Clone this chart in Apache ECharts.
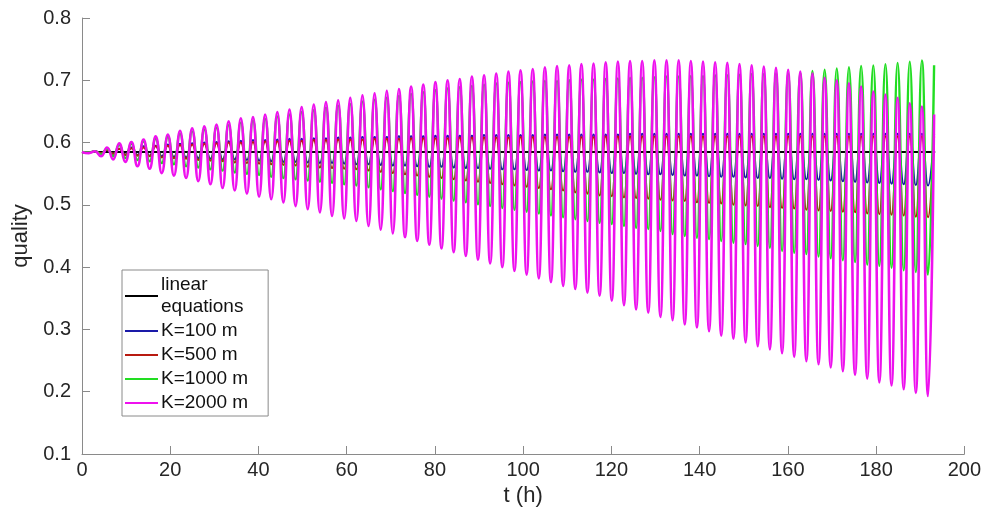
<!DOCTYPE html>
<html><head><meta charset="utf-8">
<script src="https://cdn.jsdelivr.net/npm/echarts@6/dist/echarts.min.js"></script>
<style>html,body{margin:0;padding:0;background:#fff}#c{width:984px;height:516px}</style>
</head><body><div id="c"></div>
<script>
// times (h) of the oscillation maxima and minima
const peakTimes = [0,2.92,5.67,8.43,11.19,13.95,16.70,19.46,22.22,24.97,27.73,30.49,33.24,36.00,38.76,41.52,44.27,47.03,49.79,52.54,55.30,58.06,60.81,63.57,66.33,69.09,71.84,74.60,77.36,80.11,82.87,85.63,88.38,91.14,93.90,96.66,99.41,102.17,104.93,107.68,110.44,113.20,115.95,118.71,121.47,124.23,126.98,129.74,132.50,135.25,138.01,140.77,143.52,146.28,149.04,151.80,154.55,157.31,160.07,162.82,165.58,168.34,171.09,173.85,176.61,179.37,182.12,184.88,187.64,190.39,193.15];
const troughTimes = [1.54,4.30,7.05,9.81,12.57,15.32,18.08,20.84,23.59,26.35,29.11,31.87,34.62,37.38,40.14,42.89,45.65,48.41,51.16,53.92,56.68,59.43,62.19,64.95,67.71,70.46,73.22,75.98,78.73,81.49,84.25,87.00,89.76,92.52,95.28,98.03,100.79,103.55,106.30,109.06,111.82,114.57,117.33,120.09,122.85,125.60,128.36,131.12,133.87,136.63,139.39,142.14,144.90,147.66,150.42,153.17,155.93,158.69,161.44,164.20,166.96,169.71,172.47,175.23,177.99,180.74,183.50,186.26,189.01,191.77];

const linearTimes = [0, 193.4];
const linearValues = [0.585, 0.585];

const k100Peaks = [0.585,0.586,0.588,0.590,0.592,0.594,0.595,0.597,0.598,0.599,0.600,0.601,0.602,0.603,0.604,0.604,0.605,0.606,0.606,0.607,0.607,0.608,0.608,0.609,0.609,0.609,0.610,0.610,0.610,0.611,0.611,0.611,0.611,0.612,0.612,0.612,0.612,0.612,0.613,0.613,0.613,0.613,0.613,0.613,0.613,0.614,0.614,0.614,0.614,0.614,0.614,0.614,0.614,0.614,0.614,0.614,0.614,0.614,0.614,0.614,0.614,0.614,0.614,0.614,0.614,0.614,0.614,0.614,0.614,0.614,0.614];
const k100Troughs = [0.584,0.583,0.582,0.581,0.580,0.579,0.578,0.577,0.576,0.575,0.574,0.573,0.573,0.572,0.571,0.570,0.569,0.569,0.568,0.567,0.567,0.566,0.565,0.565,0.564,0.563,0.563,0.562,0.561,0.561,0.560,0.559,0.559,0.558,0.557,0.557,0.556,0.555,0.555,0.554,0.553,0.553,0.552,0.551,0.551,0.550,0.549,0.549,0.548,0.547,0.547,0.546,0.545,0.545,0.544,0.543,0.543,0.542,0.541,0.541,0.540,0.539,0.538,0.537,0.536,0.535,0.534,0.533,0.532,0.531];

const k500Peaks = [0.585,0.586,0.588,0.590,0.591,0.592,0.594,0.595,0.596,0.597,0.598,0.599,0.600,0.600,0.601,0.602,0.602,0.603,0.603,0.604,0.604,0.605,0.605,0.605,0.606,0.606,0.606,0.607,0.607,0.607,0.607,0.608,0.608,0.608,0.608,0.608,0.609,0.609,0.609,0.609,0.609,0.609,0.609,0.610,0.610,0.610,0.610,0.610,0.610,0.610,0.610,0.610,0.610,0.610,0.610,0.610,0.610,0.610,0.610,0.610,0.610,0.610,0.610,0.610,0.610,0.610,0.610,0.610,0.610,0.610,0.610];
const k500Troughs = [0.584,0.583,0.582,0.580,0.579,0.578,0.576,0.575,0.574,0.572,0.571,0.570,0.568,0.567,0.566,0.565,0.564,0.563,0.561,0.560,0.559,0.558,0.557,0.555,0.553,0.551,0.549,0.547,0.545,0.543,0.541,0.539,0.537,0.535,0.533,0.531,0.529,0.527,0.525,0.523,0.520,0.518,0.515,0.514,0.512,0.511,0.510,0.508,0.507,0.506,0.504,0.503,0.502,0.500,0.499,0.498,0.496,0.495,0.494,0.492,0.491,0.490,0.489,0.488,0.486,0.485,0.484,0.483,0.481,0.480];

const k1000Peaks = [0.585,0.586,0.590,0.596,0.598,0.602,0.606,0.609,0.614,0.618,0.621,0.624,0.628,0.632,0.635,0.638,0.642,0.645,0.649,0.652,0.656,0.659,0.662,0.666,0.669,0.672,0.675,0.678,0.681,0.684,0.687,0.689,0.691,0.693,0.695,0.696,0.697,0.698,0.699,0.699,0.700,0.701,0.701,0.702,0.703,0.704,0.704,0.705,0.706,0.706,0.707,0.707,0.708,0.708,0.709,0.710,0.710,0.711,0.711,0.712,0.715,0.717,0.719,0.721,0.723,0.724,0.726,0.728,0.730,0.732,0.724];
const k1000Troughs = [0.584,0.581,0.578,0.575,0.572,0.570,0.567,0.565,0.562,0.560,0.557,0.555,0.552,0.550,0.548,0.545,0.543,0.541,0.539,0.537,0.535,0.533,0.531,0.528,0.525,0.522,0.519,0.516,0.513,0.510,0.507,0.504,0.501,0.498,0.495,0.492,0.489,0.486,0.483,0.480,0.477,0.474,0.471,0.469,0.466,0.463,0.461,0.458,0.453,0.450,0.447,0.445,0.442,0.439,0.437,0.434,0.431,0.426,0.423,0.421,0.417,0.414,0.411,0.408,0.404,0.402,0.399,0.395,0.392,0.388];

const k2000Peaks = [0.585,0.586,0.592,0.599,0.601,0.605,0.610,0.613,0.619,0.623,0.626,0.629,0.634,0.639,0.641,0.645,0.649,0.653,0.657,0.661,0.665,0.668,0.672,0.676,0.679,0.683,0.686,0.690,0.693,0.697,0.700,0.702,0.706,0.708,0.711,0.714,0.716,0.718,0.721,0.723,0.724,0.726,0.727,0.729,0.730,0.731,0.731,0.732,0.732,0.732,0.731,0.730,0.729,0.728,0.726,0.724,0.722,0.720,0.717,0.714,0.711,0.704,0.700,0.695,0.690,0.682,0.677,0.672,0.663,0.658,0.645];
const k2000Troughs = [0.583,0.578,0.573,0.569,0.562,0.558,0.551,0.547,0.543,0.538,0.533,0.527,0.523,0.518,0.513,0.509,0.504,0.498,0.493,0.488,0.482,0.478,0.474,0.466,0.460,0.454,0.448,0.442,0.436,0.430,0.424,0.418,0.412,0.406,0.400,0.394,0.388,0.382,0.376,0.370,0.365,0.359,0.354,0.346,0.339,0.332,0.327,0.320,0.315,0.308,0.303,0.297,0.290,0.285,0.279,0.273,0.268,0.262,0.256,0.249,0.244,0.239,0.233,0.227,0.221,0.215,0.210,0.204,0.198,0.193];

const xTicks = [0,20,40,60,80,100,120,140,160,180,200];
const yTicks = [0.1,0.2,0.3,0.4,0.5,0.6,0.7,0.8];

function build(peaks, troughs){
  const d = [];
  for (let k = 0; k < peaks.length; k++){
    d.push([peakTimes[k], peaks[k]]);
    if (k < troughs.length) d.push([troughTimes[k], troughs[k]]);
  }
  return d;
}

const FONT = 'Liberation Sans, Arial, Helvetica, sans-serif';
const chart = echarts.init(document.getElementById('c'), null, {renderer:'canvas'});
function mk(name, color, data, smooth, w){
  return {name, type:'line', data, symbol:'none', smooth: smooth, showSymbol:false,
    lineStyle:{color, width:w}, itemStyle:{color}, animation:false};
}
chart.setOption({
  animation:false,
  backgroundColor:'#fff',
  grid:{left:82, right:18, top:18, bottom:62, containLabel:false},
  xAxis:{type:'value', min:xTicks[0], max:xTicks[xTicks.length-1], interval:20,
    name:'t (h)', nameLocation:'middle', nameGap:29,
    nameTextStyle:{fontFamily:FONT, fontSize:22, color:'#262626'},
    axisLine:{show:true, lineStyle:{color:'#8a8a8a', width:1}},
    axisTick:{show:true, inside:true, length:8, lineStyle:{color:'#8a8a8a'}},
    axisLabel:{fontFamily:FONT, fontSize:20, color:'#262626', margin:6},
    splitLine:{show:false}},
  yAxis:{type:'value', min:yTicks[0], max:yTicks[yTicks.length-1], interval:0.1,
    name:'quality', nameLocation:'middle', nameGap:45,
    nameTextStyle:{fontFamily:FONT, fontSize:22, color:'#262626'},
    axisLine:{show:true, lineStyle:{color:'#8a8a8a', width:1}},
    axisTick:{show:true, inside:true, length:8, lineStyle:{color:'#8a8a8a'}},
    axisLabel:{fontFamily:FONT, fontSize:20, color:'#262626', margin:11,
      formatter: v => v.toFixed(1)},
    splitLine:{show:false}},
  legend:{orient:'vertical', left:122, top:270, backgroundColor:'#fff',
    borderColor:'#8a8a8a', borderWidth:1, borderRadius:0, padding:[4,20,2,3],
    itemGap:2, itemWidth:33, itemHeight:2, icon:'rect',
    textStyle:{fontFamily:FONT, fontSize:19, lineHeight:22, color:'#111', padding:[0,0,0,-2]},
    data:['linear\nequations','K=100 m','K=500 m','K=1000 m','K=2000 m']},
  series:[
    mk('linear\nequations', '#000000', linearTimes.map((t,i)=>[t, linearValues[i]]), false, 2),
    mk('K=100 m', '#1a1aa8', build(k100Peaks, k100Troughs), 0.5, 2),
    mk('K=500 m', '#b81a10', build(k500Peaks, k500Troughs), 0.5, 2),
    mk('K=1000 m', '#22dd22', build(k1000Peaks, k1000Troughs), 0.5, 2.4),
    mk('K=2000 m', '#ee11ee', build(k2000Peaks, k2000Troughs), 0.5, 2.6)
  ]
});
</script></body></html>
